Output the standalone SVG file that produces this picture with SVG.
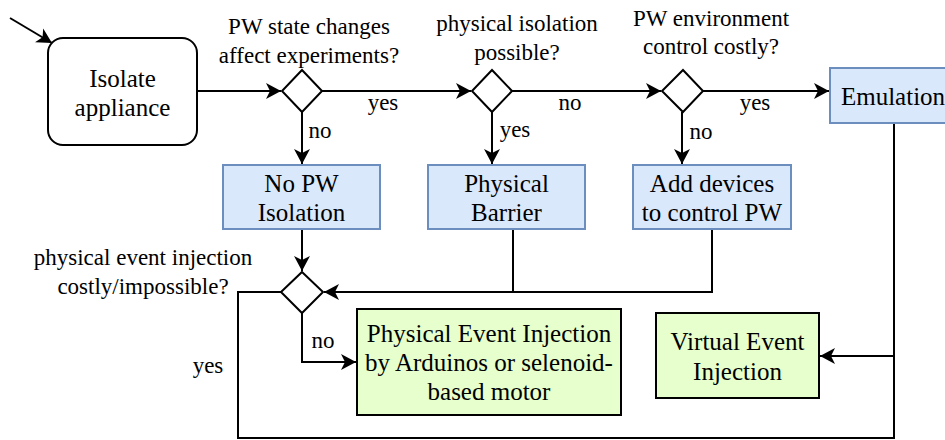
<svg xmlns="http://www.w3.org/2000/svg" width="945" height="440" viewBox="0 0 945 440">
<style>
text{font-family:"Liberation Serif","DejaVu Serif","Times New Roman",serif;fill:#000;text-anchor:middle}
.lbl{font-size:23px}
.box{font-size:25px}
.blue{fill:#dae8fc;stroke:#6c8ebf;stroke-width:2}
.green{fill:#e6ffcc;stroke:#000;stroke-width:2}
.dia{fill:#fff;stroke:#000;stroke-width:2}
.c{fill:none;stroke:#000;stroke-width:2}
</style>
<defs>
<marker id="arr" markerUnits="userSpaceOnUse" markerWidth="20" markerHeight="20" viewBox="-16 -10 18 20" refX="0" refY="0" orient="auto">
<path d="M0,0 L-15,-8 L-11,0 L-15,8 Z" fill="#000"/>
</marker>
</defs>
<rect width="945" height="440" fill="#fff"/>
<g id="connectors">
<path class="c" d="M10,18 L52,43" marker-end="url(#arr)"/>
<path class="c" d="M197,91 L281,91" marker-end="url(#arr)"/>
<path class="c" d="M322,91 L471,91" marker-end="url(#arr)"/>
<path class="c" d="M512,91 L661,91" marker-end="url(#arr)"/>
<path class="c" d="M703,91 L829,91" marker-end="url(#arr)"/>
<path class="c" d="M302,112 L302,164" marker-end="url(#arr)"/>
<path class="c" d="M492,112 L492,164" marker-end="url(#arr)"/>
<path class="c" d="M682,112 L682,164" marker-end="url(#arr)"/>
<path class="c" d="M302,229 L302,271" marker-end="url(#arr)"/>
<path class="c" d="M513,229 L513,292 L324,292" marker-end="url(#arr)"/>
<path class="c" d="M712,229 L712,292 L513,292"/>
<path class="c" d="M302,313 L302,362 L356,362" marker-end="url(#arr)"/>
<path class="c" d="M894,123 L894,356 L820,356" marker-end="url(#arr)"/>
<path class="c" d="M281,292 L238,292 L238,438 L894,438 L894,356"/>
<text class="lbl" x="383" y="110">yes</text>
<text class="lbl" x="570" y="110">no</text>
<text class="lbl" x="755" y="110">yes</text>
<text class="lbl" x="320" y="138">no</text>
<text class="lbl" x="515" y="137">yes</text>
<text class="lbl" x="701" y="139">no</text>
<text class="lbl" x="323" y="348">no</text>
<text class="lbl" x="208" y="373">yes</text>
</g>
<g id="isolate">
<rect x="48" y="38" width="149" height="107" rx="15" ry="15" fill="#fff" stroke="#000" stroke-width="2"/>
<text class="box" x="122.5" y="86.5">Isolate</text>
<text class="box" x="122.5" y="115.5">appliance</text>
</g>
<g id="d1">
<path class="dia" d="M302,70 L322,91 L302,112 L282,91 Z"/>
<text class="lbl" x="309" y="33.5">PW state changes</text>
<text class="lbl" x="309" y="63">affect experiments?</text>
</g>
<g id="d2">
<path class="dia" d="M492,70 L512,91 L492,112 L472,91 Z"/>
<text class="lbl" x="517" y="30.5">physical isolation</text>
<text class="lbl" x="517" y="60">possible?</text>
</g>
<g id="d3">
<path class="dia" d="M683,70 L703,91 L683,112 L662,91 Z"/>
<text class="lbl" x="711" y="25.5">PW environment</text>
<text class="lbl" x="711" y="53.5">control costly?</text>
</g>
<g id="emulation">
<rect class="blue" x="830" y="68" width="126" height="55"/>
<text class="box" x="893" y="105">Emulation</text>
</g>
<g id="nopw">
<rect class="blue" x="223" y="165" width="157" height="64"/>
<text class="box" x="301.5" y="192">No PW</text>
<text class="box" x="301.5" y="221">Isolation</text>
</g>
<g id="barrier">
<rect class="blue" x="428" y="165" width="157" height="64"/>
<text class="box" x="506.5" y="192">Physical</text>
<text class="box" x="506.5" y="221">Barrier</text>
</g>
<g id="adddevices">
<rect class="blue" x="633" y="165" width="158" height="64"/>
<text class="box" x="712" y="192">Add devices</text>
<text class="box" x="712" y="221">to control PW</text>
</g>
<g id="d4">
<path class="dia" d="M302,272 L323,292 L302,313 L281,292 Z"/>
<text class="lbl" x="143" y="265">physical event injection</text>
<text class="lbl" x="143" y="294">costly/impossible?</text>
</g>
<g id="physinj">
<rect class="green" x="357" y="309" width="264" height="106"/>
<text class="box" x="489" y="342">Physical Event Injection</text>
<text class="box" x="489" y="371">by Arduinos or selenoid-</text>
<text class="box" x="489" y="400">based motor</text>
</g>
<g id="virtinj">
<rect class="green" x="656" y="313" width="163" height="85"/>
<text class="box" x="737.5" y="350">Virtual Event</text>
<text class="box" x="737.5" y="380">Injection</text>
</g>
</svg>
